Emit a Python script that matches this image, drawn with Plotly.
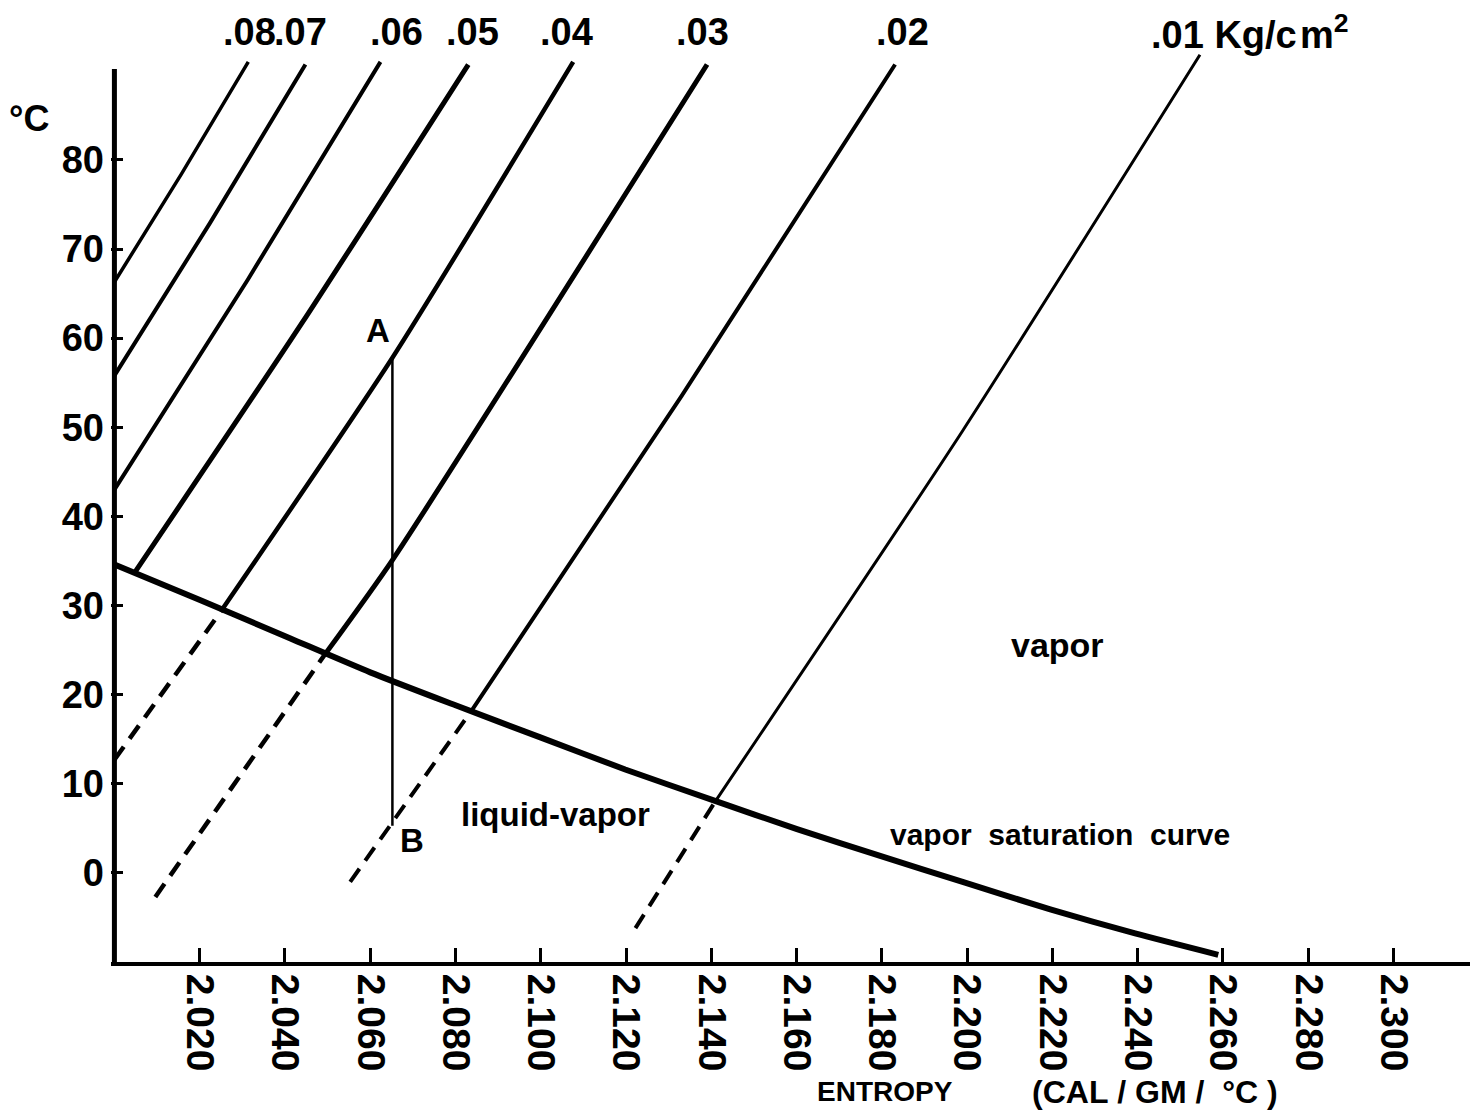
import plotly.graph_objects as go

# ---------------- data ----------------
# Isobars, pressure in Kg/cm^2 ; entropy (cal/gm/°C) vs temperature (°C)
iso08_s = [2.0000, 2.0157, 2.0314]
iso08_t = [66.3, 78.4, 91.0]
iso07_s = [2.0000, 2.0224, 2.0448]
iso07_t = [55.8, 72.9, 90.7]
iso06_s = [2.0000, 2.0312, 2.0624]
iso06_t = [43.0, 66.5, 91.0]
iso05_s = [2.0049, 2.0440, 2.0830]
iso05_t = [33.8, 61.7, 90.7]
iso04_s = [2.0249, 2.0652, 2.1076]
iso04_t = [29.3, 57.8, 91.0]
iso04_dash_s = [2.0000, 2.0249]
iso04_dash_t = [12.7, 29.3]
iso03_s = [2.0495, 2.0652, 2.1390]
iso03_t = [24.6, 35.1, 90.7]
iso03_dash_s = [2.0096, 2.0495]
iso03_dash_t = [-2.7, 24.6]
iso02_s = [2.0839, 2.1330, 2.1831]
iso02_t = [18.3, 53.5, 90.7]
iso02_dash_s = [2.0553, 2.0839]
iso02_dash_t = [-1.0, 18.3]
iso01_s = [2.1409, 2.1988, 2.2546]
iso01_t = [8.0, 49.5, 91.8]
iso01_dash_s = [2.1222, 2.1409]
iso01_dash_t = [-6.2, 8.0]

# vapor saturation curve
sat_s = [2.0000, 2.0202, 2.0413, 2.0600, 2.0800, 2.0999, 2.1198, 2.1402,
         2.1601, 2.1796, 2.1995, 2.2195, 2.2394, 2.2589]
sat_t = [34.6, 30.6, 26.3, 22.5, 18.8, 15.2, 11.6, 8.2,
         4.9, 1.9, -1.1, -4.1, -6.8, -9.2]

# process A -> B (isentropic)
ab_s = [2.0652, 2.0652]
ab_t = [57.8, 5.3]

# pressure labels above the isobars
plabel_text = [".08", ".07", ".06", ".05", ".04", ".03", ".02",
               ".01&nbsp;Kg/c&#8202;m<sup>2</sup>"]
plabel_s = [2.0317, 2.0437, 2.0661, 2.0839, 2.1060, 2.1379, 2.1848, 2.2426]
plabel_anchor = ["center", "center", "center", "center", "center", "center", "center", "left"]
plabel_t = 94.4

# axes
x_ticks = [2.02, 2.04, 2.06, 2.08, 2.10, 2.12, 2.14, 2.16, 2.18, 2.20,
           2.22, 2.24, 2.26, 2.28, 2.30]
x_ticktext = ["2.020", "2.040", "2.060", "2.080", "2.100", "2.120", "2.140", "2.160",
              "2.180", "2.200", "2.220", "2.240", "2.260", "2.280", "2.300"]
y_ticks = [0, 10, 20, 30, 40, 50, 60, 70, 80]
y_ticktext = ["0", "10", "20", "30", "40", "50", "60", "70", "80"]

# region / point labels
region_text = ["vapor", "liquid-vapor", "vapor&nbsp;&nbsp;saturation&nbsp;&nbsp;curve", "A", "B"]
region_s = [2.2213, 2.1034, 2.2218, 2.0619, 2.0699]
region_t = [25.6, 6.5, 4.3, 60.9, 3.6]
region_size = [34, 33, 30, 33, 33]

# ---------------- figure ----------------
FONT = "Liberation Sans, Arial, sans-serif"
BLACK = "#000000"
fig = go.Figure()


def add_line(xs, ys, width, dash="solid"):
    fig.add_trace(go.Scatter(x=xs, y=ys, mode="lines",
                             line=dict(color=BLACK, width=width, dash=dash,
                                       shape="spline", smoothing=0.6),
                             hoverinfo="skip", showlegend=False))


DASH = "16px,10px"
add_line(iso08_s, iso08_t, 3.5)
add_line(iso07_s, iso07_t, 4)
add_line(iso06_s, iso06_t, 4)
add_line(iso05_s, iso05_t, 5)
add_line(iso04_s, iso04_t, 4.5)
add_line(iso04_dash_s, iso04_dash_t, 4.5, DASH)
add_line(iso03_s, iso03_t, 5)
add_line(iso03_dash_s, iso03_dash_t, 4.5, DASH)
add_line(iso02_s, iso02_t, 4)
add_line(iso02_dash_s, iso02_dash_t, 4, DASH)
add_line(iso01_s, iso01_t, 3)
add_line(iso01_dash_s, iso01_dash_t, 4, DASH)
add_line(sat_s, sat_t, 6)
add_line(ab_s, ab_t, 2.5)

# y axis line (ends near 90 °C like the original)
fig.add_trace(go.Scatter(x=[2.0, 2.0], y=[-10, 90.2], mode="lines",
                         line=dict(color=BLACK, width=5),
                         hoverinfo="skip", showlegend=False))

annotations = []
for txt, s, anc in zip(plabel_text, plabel_s, plabel_anchor):
    annotations.append(dict(x=s, y=plabel_t, xref="x", yref="y", text=txt,
                            showarrow=False, xanchor=anc, yanchor="middle",
                            font=dict(family=FONT, size=38, color=BLACK, weight="bold")))
for txt, s, t, sz in zip(region_text, region_s, region_t, region_size):
    annotations.append(dict(x=s, y=t, xref="x", yref="y", text=txt,
                            showarrow=False, xanchor="center", yanchor="middle",
                            font=dict(family=FONT, size=sz, color=BLACK, weight="bold")))
annotations.append(dict(x=-0.0605, y=84.7, xref="paper", yref="y", text="°C",
                        showarrow=False, xanchor="center", yanchor="middle",
                        font=dict(family=FONT, size=36, color=BLACK, weight="bold")))
annotations.append(dict(x=0.518, y=-0.135, xref="paper", yref="paper",
                        text="ENTROPY",
                        showarrow=False, xanchor="left", yanchor="middle",
                        font=dict(family=FONT, size=28, color=BLACK, weight="bold")))
annotations.append(dict(x=0.676, y=-0.135, xref="paper", yref="paper",
                        text="(CAL&nbsp;/&nbsp;GM&nbsp;/&nbsp;&nbsp;°C&nbsp;)",
                        showarrow=False, xanchor="left", yanchor="middle",
                        font=dict(family=FONT, size=32, color=BLACK, weight="bold")))

fig.update_layout(
    width=1470, height=1120,
    margin=dict(l=111, r=0, t=0, b=158),
    paper_bgcolor="white", plot_bgcolor="white",
    showlegend=False,
    annotations=annotations,
    xaxis=dict(range=[1.9992, 2.31794], tickvals=x_ticks, ticktext=x_ticktext,
               tickangle=90, ticks="inside", ticklen=14, tickwidth=3, tickcolor=BLACK,
               showline=True, linewidth=4, linecolor=BLACK,
               showgrid=False, zeroline=False,
               tickfont=dict(family=FONT, size=39, color=BLACK, weight="bold")),
    yaxis=dict(range=[-10, 97.94], tickvals=y_ticks, ticktext=y_ticktext,
               ticks="inside", ticklen=12, tickwidth=3, tickcolor=BLACK,
               ticklabelstandoff=6,
               showline=False, showgrid=False, zeroline=False,
               tickfont=dict(family=FONT, size=38, color=BLACK, weight="bold")),
)

fig.write_html("out.html")
